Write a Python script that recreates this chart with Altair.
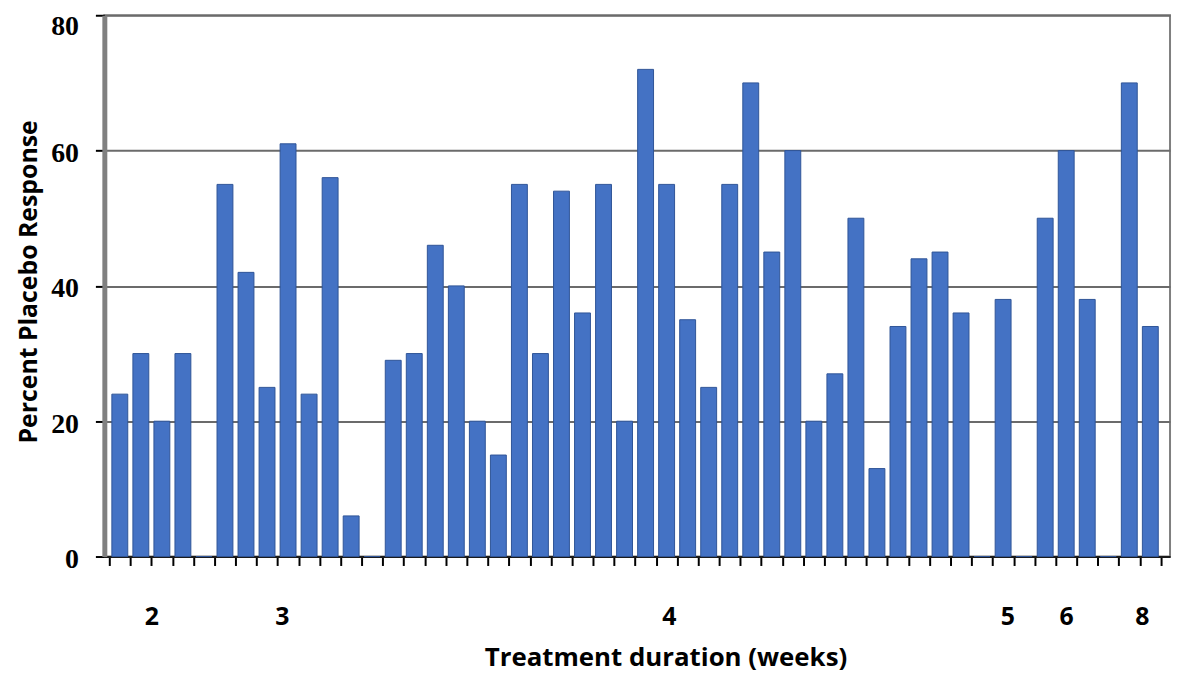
import altair as alt
import pandas as pd

# ---- data ----
slots = list(range(1, 51))
values = [24, 30, 20, 30, 0, 55, 42, 25, 61, 24,
          56, 6, 0, 29, 30, 46, 40, 20, 15, 55,
          30, 54, 36, 55, 20, 72, 55, 35, 25, 55,
          70, 45, 60, 20, 27, 50, 13, 34, 44, 45,
          36, 0, 38, 0, 50, 60, 38, 0, 70, 34]
weeks = ["2", "3", "4", "5", "6", "8"]
week_pos = [2.5, 8.7, 27.1, 43.2, 46.0, 49.6]
y_ticks = [0, 20, 40, 60, 80]
slot_edges = [0.5 + i for i in range(51)]

bars_df = pd.DataFrame({"slot": slots, "value": values})
weeks_df = pd.DataFrame({"pos": week_pos, "week": weeks})

xscale = alt.Scale(domain=[0.5, 50.7], nice=False, zero=False)

SANS = "Open Sans"

bars = alt.Chart(bars_df).mark_bar(
    width=16, color="#4472C4", stroke="#2F5597", strokeWidth=1
).encode(
    x=alt.X("slot:Q", scale=xscale,
            axis=alt.Axis(values=slot_edges, labels=False, title=None, grid=False,
                          ticks=True, tickSize=9, tickWidth=2, tickColor="#000000",
                          domainColor="#1a1a1a", domainWidth=2, orient="bottom")),
    y=alt.Y("value:Q", scale=alt.Scale(domain=[0, 80], nice=False),
            axis=alt.Axis(values=y_ticks, title="Percent Placebo Response",
                          grid=True, gridColor="#6b6b6b", gridWidth=2,
                          domainColor="#808080", domainWidth=5,
                          tickSize=9, tickWidth=2, tickColor="#000000",
                          labelFont="Liberation Serif", labelFontWeight="bold",
                          labelFontSize=28, labelColor="#000000", labelPadding=17,
                          labelBaseline="middle",
                          labelOffset=alt.ExprRef("datum.value == 80 ? 11 : 3"),
                          titleFont=SANS, titleFontWeight="bold", titleFontSize=25,
                          titleColor="#000000", titleX=-76, titleY=268,
                          titleBaseline="middle")),
)

week_axis = alt.Chart(weeks_df).mark_text(opacity=0, text=" ").encode(
    x=alt.X("pos:Q", scale=xscale,
            axis=alt.Axis(values=week_pos, orient="bottom", ticks=False, tickSize=0,
                          domain=False, grid=False,
                          labelExpr="[" + ",".join("'%s'" % w for w in weeks) + "][indexof(["
                                    + ",".join(str(p) for p in week_pos) + "], datum.value)]",
                          labelFont=SANS, labelFontWeight="bold", labelFontSize=25,
                          labelColor="#000000", labelBaseline="middle", labelPadding=60,
                          labelOverlap=False,
                          title="Treatment duration (weeks)", titleFont=SANS,
                          titleFontWeight="bold", titleFontSize=26, titleColor="#000000",
                          titleBaseline="middle", titleX=565, titleY=102)),
)

chart = alt.layer(bars, week_axis).resolve_axis(x="independent").properties(
    width=1073, height=545,
    padding={"left": 97, "top": 5, "right": 3, "bottom": 120},
    autosize=alt.AutoSizeParams(type="none"),
    background="#ffffff",
).configure_view(stroke="#7f7f7f", strokeWidth=2)

chart.save("out.html", embed_options={"renderer": "svg", "actions": False})
